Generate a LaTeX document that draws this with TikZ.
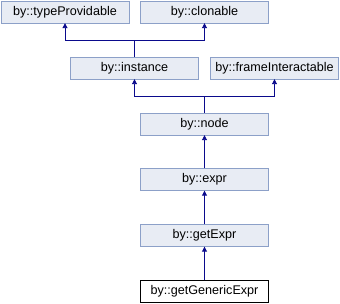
\documentclass[tikz,border=0pt]{standalone}
\usepackage{fontspec}
\setmainfont{Liberation Sans}
\usetikzlibrary{arrows.meta}
\definecolor{boxfill}{HTML}{E8ECF4}
\definecolor{boxline}{HTML}{8CA0C8}
\definecolor{edgeblue}{HTML}{0A0A8C}
\begin{document}
\begin{tikzpicture}[x=1pt, y=-1pt,
    every node/.style={font=\fontsize{12.6}{15}\selectfont},
    classbox/.style={draw=boxline, fill=boxfill, minimum width=128pt, minimum height=22pt, inner sep=0pt},
    leafbox/.style={draw=black, fill=white, minimum width=128pt, minimum height=22pt, inner sep=0pt},
    inh/.style={draw=edgeblue, line width=0.9pt, -{Triangle[length=5pt, width=5pt]}},
    plain/.style={draw=edgeblue, line width=0.9pt}]
  \useasboundingbox (0,0) rectangle (340,304);
  % top row
  \node[classbox] (typeprov) at (65,12) {by::typeProvidable};
  \node[classbox] (clonable) at (204.5,12) {by::clonable};
  % second row
  \node[classbox] (instance) at (134.5,68) {by::instance};
  \node[classbox] (frameint) at (274.5,68) {by::frameInteractable};
  % chain
  \node[classbox] (node) at (204.5,124) {by::node};
  \node[classbox] (expr) at (204.5,179.5) {by::expr};
  \node[classbox] (getexpr) at (204.5,235.5) {by::getExpr};
  \node[leafbox] (generic) at (204.5,291.5) {by::getGenericExpr};

  % instance inherits two
  \coordinate (joinA) at (134.5,40);
  \draw[plain] (instance.north) -- (joinA);
  \foreach \p in {typeprov,clonable}
    \draw[inh] (joinA) -| (\p.south);

  % node inherits two
  \coordinate (joinB) at (204.5,96);
  \draw[plain] (node.north) -- (joinB);
  \foreach \p in {instance,frameint}
    \draw[inh] (joinB) -| (\p.south);

  % single line
  \foreach \c/\p in {expr/node,getexpr/expr,generic/getexpr}
    \draw[inh] (\c.north) -- (\p.south);
\end{tikzpicture}
\end{document}
